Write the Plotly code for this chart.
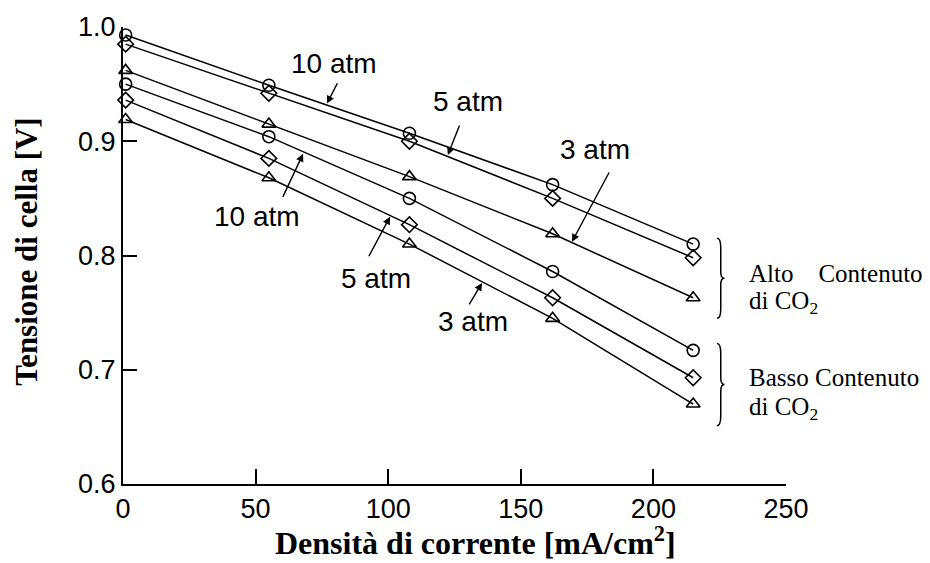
import plotly.graph_objects as go

# ---- data ----
x_current = [1, 55, 108, 162, 215]  # mA/cm2

alto_10 = [0.993, 0.949, 0.907, 0.862, 0.810]
alto_5 = [0.985, 0.942, 0.900, 0.850, 0.798]
alto_3 = [0.962, 0.915, 0.869, 0.819, 0.763]
basso_10 = [0.950, 0.904, 0.850, 0.786, 0.717]
basso_5 = [0.936, 0.885, 0.827, 0.763, 0.693]
basso_3 = [0.919, 0.868, 0.810, 0.745, 0.670]

x_ticks = [0, 50, 100, 150, 200, 250]
y_ticks = [0.6, 0.7, 0.8, 0.9, 1.0]
y_tick_text = ["0.6", "0.7", "0.8", "0.9", "1.0"]

series = [
    (alto_10, "circle-open"),
    (alto_5, "diamond-open"),
    (alto_3, "triangle-up-open"),
    (basso_10, "circle-open"),
    (basso_5, "diamond-open"),
    (basso_3, "triangle-up-open"),
]

# annotation labels (text, x, y) and arrows (tail x, tail y, head x, head y)
atm_labels = [
    ("10 atm", 79.6, 0.968), ("5 atm", 130.1, 0.935), ("3 atm", 178.0, 0.893),
    ("10 atm", 50.5, 0.834), ("5 atm", 95.4, 0.780), ("3 atm", 132.0, 0.742),
]
atm_arrows = [
    (81.1, 0.952, 76.9, 0.933),
    (127.1, 0.915, 122.5, 0.888),
    (183.6, 0.874, 169.3, 0.812),
    (60.0, 0.850, 67.9, 0.889),
    (92.4, 0.798, 100.7, 0.834),
    (130.2, 0.756, 135.4, 0.776),
]

fig = go.Figure()
for vals, sym in series:
    fig.add_trace(go.Scatter(
        x=x_current, y=vals, mode="lines+markers",
        line=dict(color="black", width=1.5),
        marker=dict(symbol=sym, size=12, color="black", line=dict(width=1.6)),
        cliponaxis=False, showlegend=False,
    ))

sans = "Liberation Sans, Arial, Helvetica"
serif = "Liberation Serif, Times New Roman, serif"

annotations = []
for txt, x, y in atm_labels:
    annotations.append(dict(x=x, y=y, xref="x", yref="y", text=txt, showarrow=False,
                            font=dict(family=sans, size=28, color="black")))
for tx, ty, hx, hy in atm_arrows:
    annotations.append(dict(x=hx, y=hy, ax=tx, ay=ty, xref="x", yref="y", axref="x", ayref="y",
                            text="", showarrow=True, arrowhead=2, arrowsize=1.1,
                            arrowwidth=1.4, arrowcolor="black"))

side_texts = [
    ("Alto\u00a0\u00a0\u00a0\u00a0Contenuto", 0.784),
    ("di CO<sub>2</sub>", 0.759),
    ("Basso Contenuto", 0.693),
    ("di CO<sub>2</sub>", 0.666),
]
for txt, y in side_texts:
    annotations.append(dict(x=235.3, y=y, xref="x", yref="y", text=txt, showarrow=False,
                            xanchor="left", yanchor="middle",
                            font=dict(family=serif, size=25, color="black")))

# axis titles
annotations.append(dict(x=0.531, y=-0.124, xref="paper", yref="paper",
                        text="<b>Densità di corrente [mA/cm<sup>2</sup>]</b>", showarrow=False,
                        xanchor="center", yanchor="middle",
                        font=dict(family=serif, size=32, color="black")))
annotations.append(dict(x=-0.145, y=0.508, xref="paper", yref="paper",
                        text="<b>Tensione di cella [V]</b>", showarrow=False, textangle=-90,
                        xanchor="center", yanchor="middle",
                        font=dict(family=serif, size=31, color="black")))

# braces
def brace(x0, w, top, bot):
    m = (top + bot) / 2
    h = top - bot
    xa = x0 + w / 2
    x1 = x0 + w
    return (f"M {x0},{top} Q {xa},{top} {xa},{top - 0.12*h} L {xa},{m + 0.08*h} "
            f"Q {xa},{m} {x1},{m} Q {xa},{m} {xa},{m - 0.08*h} L {xa},{bot + 0.12*h} "
            f"Q {xa},{bot} {x0},{bot}")

shapes = [
    dict(type="path", xref="x", yref="y", path=brace(224, 2.8, 0.815, 0.745),
         line=dict(color="black", width=1.5)),
    dict(type="path", xref="x", yref="y", path=brace(224, 2.8, 0.723, 0.651),
         line=dict(color="black", width=1.5)),
]

fig.update_layout(
    width=930, height=563,
    margin=dict(l=123, r=144, t=25, b=79),
    paper_bgcolor="white", plot_bgcolor="white",
    annotations=annotations, shapes=shapes,
    xaxis=dict(range=[0, 250], tickvals=x_ticks, showgrid=False, zeroline=False,
               showline=True, linecolor="black", linewidth=2,
               ticks="inside", ticklen=15, tickwidth=1.5, tickcolor="black",
               tickfont=dict(family=sans, size=27, color="black")),
    yaxis=dict(range=[0.6, 1.0], tickvals=y_ticks, ticktext=y_tick_text, showgrid=False,
               zeroline=False, showline=True, linecolor="black", linewidth=2,
               ticks="inside", ticklen=14, tickwidth=1.5, tickcolor="black",
               tickfont=dict(family=sans, size=27, color="black")),
)

fig.write_html("out.html")
